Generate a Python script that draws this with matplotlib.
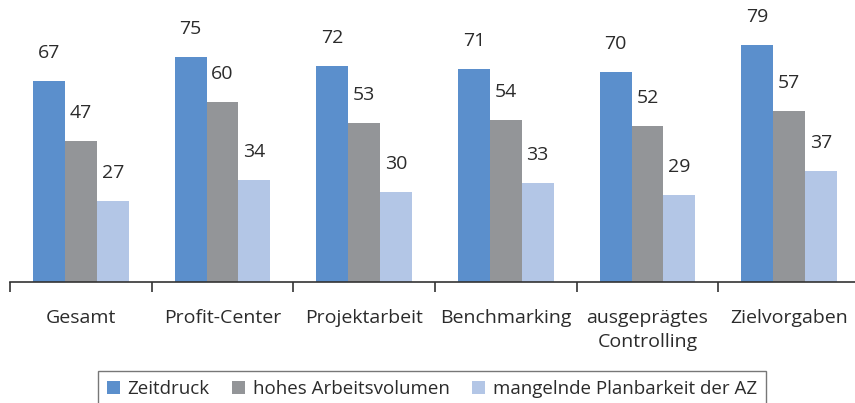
"""Balkendiagramm: Gründe für Überstunden nach Organisationsform."""

import matplotlib

matplotlib.use("Agg")
import matplotlib.pyplot as plt
import numpy as np

CATEGORIES = ["Gesamt", "Profit-Center", "Projektarbeit", "Benchmarking",
              "ausgeprägtes\nControlling", "Zielvorgaben"]
SERIES = ["Zeitdruck", "hohes Arbeitsvolumen", "mangelnde Planbarkeit der AZ"]
ZEITDRUCK = [67, 75, 72, 71, 70, 79]
ARBEITSVOLUMEN = [47, 60, 53, 54, 52, 57]
PLANBARKEIT = [27, 34, 30, 33, 29, 37]

COLORS = ["#5b8fcc", "#939598", "#b3c6e6"]
TEXT_COLOR = "#2b2b2b"

plt.rcParams["font.family"] = ["Open Sans", "DejaVu Sans"]

fig = plt.figure(figsize=(8.55, 4.03), dpi=100)
ax = fig.add_axes([10 / 855, (403 - 282) / 403, 857 / 855, 282 / 403])

x = np.arange(len(CATEGORIES))
width = 0.225
values = [ZEITDRUCK, ARBEITSVOLUMEN, PLANBARKEIT]
handles = []
for index, (name, vals) in enumerate(zip(SERIES, values)):
    offset = (index - 1) * width
    bars = ax.bar(x + offset, vals, width, color=COLORS[index], label=name)
    handles.append(bars)
    for bar, value in zip(bars, vals):
        ax.text(bar.get_x() + bar.get_width() / 2, bar.get_height() + 6.2,
                f"{value}", ha="center", va="bottom", fontsize=14, color=TEXT_COLOR)

ax.set_xlim(-0.5, len(CATEGORIES) - 0.45)
ax.set_ylim(0, 94)
ax.set_yticks([])
for side in ["left", "right", "top"]:
    ax.spines[side].set_visible(False)
ax.spines["bottom"].set_color("#333333")
ax.spines["bottom"].set_linewidth(1.2)

ax.set_xticks(np.arange(len(CATEGORIES)) - 0.5)
ax.set_xticklabels([])
ax.tick_params(axis="x", direction="out", length=7, width=1.2, color="#333333")
for pos, label in zip(x, CATEGORIES):
    ax.text(pos, -9, label, ha="center", va="top", fontsize=14,
            color=TEXT_COLOR, linespacing=1.4)

leg = fig.legend(handles=handles, labels=SERIES, loc="lower center",
                 bbox_to_anchor=(432 / 855, -0.035), ncol=3, fontsize=13.5,
                 frameon=True, fancybox=False, handlelength=0.7, handleheight=0.7,
                 handletextpad=0.4, columnspacing=1.2, borderpad=0.5)
leg.get_frame().set_edgecolor("#555555")
leg.get_frame().set_linewidth(1.0)
for text in leg.get_texts():
    text.set_color(TEXT_COLOR)

fig.savefig("out.png", dpi=100)
